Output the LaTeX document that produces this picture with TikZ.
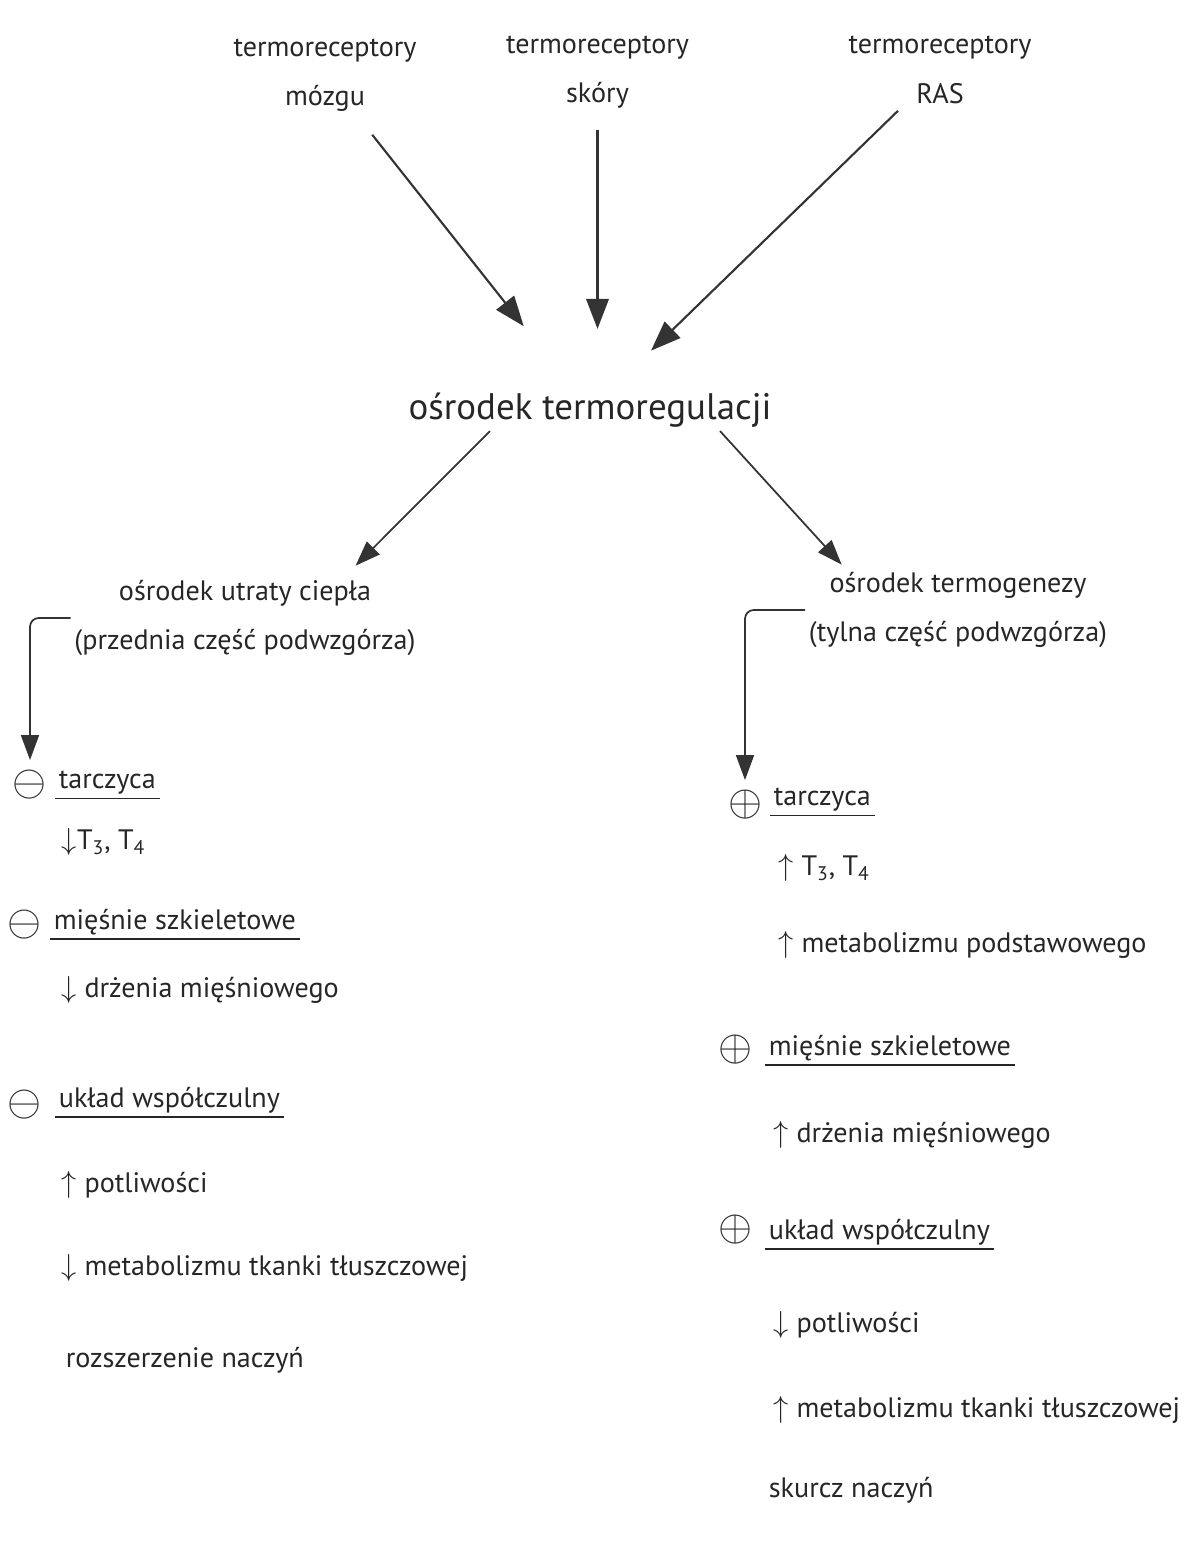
\documentclass[tikz,border=0pt]{standalone}
\usepackage{fontspec}
\setmainfont{PT Sans}
\usetikzlibrary{arrows.meta}

\tikzset{
  txt/.style={text=black!85, inner sep=2pt},
  head/.style={txt, align=center, font=\fontsize{16}{28}\selectfont},
  item/.style={txt, anchor=west},
  sign/.style={txt, inner sep=0pt, font=\fontsize{25}{25}\selectfont},
  bigarrow/.style={draw=black!80, line width=1.2pt, -{Triangle[length=6mm,width=4.5mm]}},
  smallarrow/.style={draw=black!80, line width=1pt, -{Triangle[length=5mm,width=3.6mm]}},
  underl/.style={draw=black!85, line width=1pt}
}

\begin{document}
\begin{tikzpicture}[font=\fontsize{16}{19}\selectfont]

\useasboundingbox (0,0) rectangle (23.72,30.94);

% receptors
\node at (6.5,29.44)[head] (tmozgu) {termoreceptory\\mózgu};
\node at (11.95,29.5)[head] (tskory) {termoreceptory\\skóry};
\node at (18.8,29.54)[head] (tras) {termoreceptory\\RAS};

% centres
\node at (11.8,22.74)[head, font=\fontsize{21}{25}\selectfont] (termo) {ośrodek termoregulacji};
\node at (4.9,18.58)[head] (utraty) {ośrodek utraty ciepła\\(przednia część podwzgórza)};
\node at (19.16,18.74)[head] (termogen) {ośrodek termogenezy\\(tylna część podwzgórza)};

\draw[bigarrow, shorten <=0.5cm, shorten >=1.6cm] (tmozgu) -- (termo);
\draw[bigarrow, shorten <=0.35cm, shorten >=1.2cm] (tskory.south) -- (tskory.south |- termo.north);
\draw[bigarrow, shorten <=0.1cm, shorten >=1.1cm] (tras) -- (termo);

\draw[smallarrow, shorten >=0.3cm] ([xshift=-2cm]termo.south) -- ([xshift=2cm]utraty.north);
\draw[smallarrow, shorten >=0.1cm] ([xshift=2.6cm]termo.south) -- ([xshift=-2.26cm]termogen.north);

% left column
\node at (0.6,15.24)[sign] (signA) {$\ominus$};
\node at (1.1,15.28)[item] (tarczA) {tarczyca};
\node at (1.16,14.1)[item] (t34A) {$\downarrow$T\textsubscript{3}, T\textsubscript{4}};
\node at (0.5,12.44)[sign] (signB) {$\ominus$};
\node at (1.0,12.5)[item] (miesA) {mięśnie szkieletowe};
\node at (1.16,11.14)[item] (drzA) {$\downarrow$ drżenia mięśniowego};
\node at (0.5,8.84)[sign] (signC) {$\ominus$};
\node at (1.1,8.94)[item] (ukladA) {układ współczulny};
\node at (1.16,7.24)[item] (potA) {$\uparrow$ potliwości};
\node at (1.16,5.58)[item] (metA) {$\downarrow$ metabolizmu tkanki tłuszczowej};
\node at (1.24,3.74)[item] (rozA) {rozszerzenie naczyń};

\draw[underl] (tarczA.south west) -- (tarczA.south east);
\draw[underl] (miesA.south west) -- (miesA.south east);
\draw[underl] (ukladA.south west) -- (ukladA.south east);

\draw[smallarrow, rounded corners=5pt, shorten >=0.2cm] (utraty.west) -| (signA.north);

% right column
\node at (14.9,14.84)[sign] (signD) {$\oplus$};
\node at (15.4,14.94)[item] (tarczB) {tarczyca};
\node at (15.5,13.58)[item] (t34B) {$\uparrow$ T\textsubscript{3}, T\textsubscript{4}};
\node at (15.5,12.04)[item] (podB) {$\uparrow$ metabolizmu podstawowego};
\node at (14.7,9.94)[sign] (signE) {$\oplus$};
\node at (15.3,9.98)[item] (miesB) {mięśnie szkieletowe};
\node at (15.4,8.24)[item] (drzB) {$\uparrow$ drżenia mięśniowego};
\node at (14.7,6.34)[sign] (signF) {$\oplus$};
\node at (15.3,6.3)[item] (ukladB) {układ współczulny};
\node at (15.4,4.44)[item] (potB) {$\downarrow$ potliwości};
\node at (15.4,2.74)[item] (metB) {$\uparrow$ metabolizmu tkanki tłuszczowej};
\node at (15.3,1.14)[item] (skB) {skurcz naczyń};

\draw[underl] (tarczB.south west) -- (tarczB.south east);
\draw[underl] (miesB.south west) -- (miesB.south east);
\draw[underl] (ukladB.south west) -- (ukladB.south east);

\draw[smallarrow, rounded corners=5pt, shorten >=0.2cm] (termogen.west) -| (signD.north);

\end{tikzpicture}
\end{document}
